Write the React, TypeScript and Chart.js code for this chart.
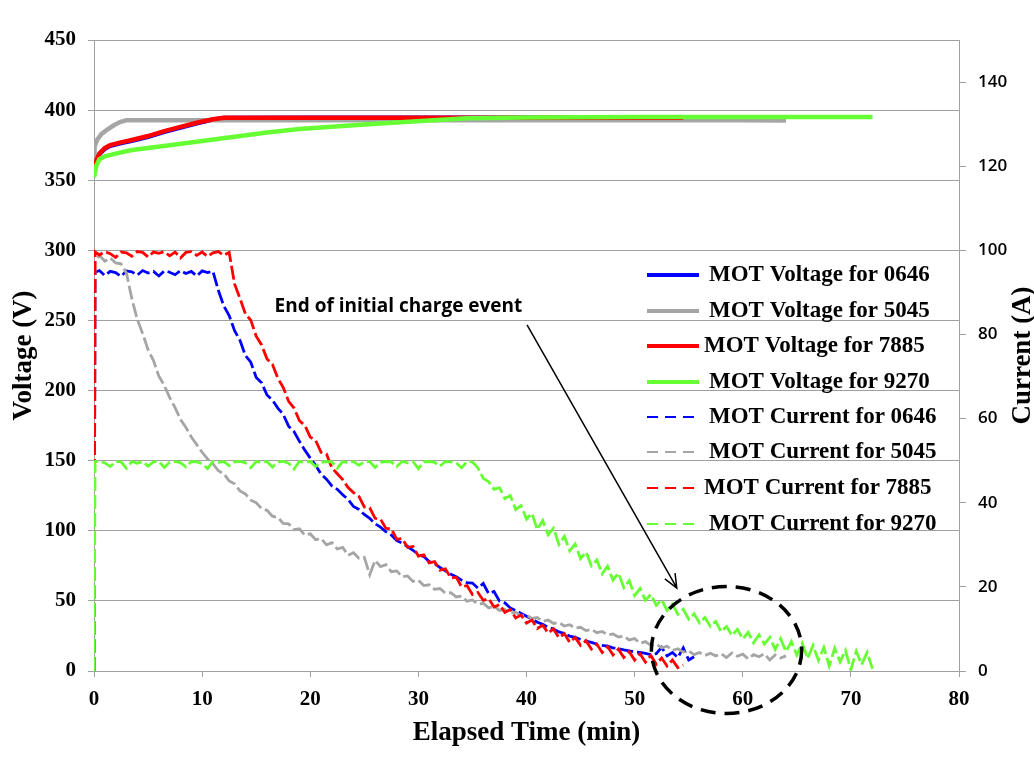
import React, { useEffect, useRef } from "react";
import { Chart, registerables } from "chart.js";

Chart.register(...registerables);

// ---------------- DATA ----------------
// Shared time grid (min) for the sampled current records
const TIME = [
  0, 0.1,
  0.5, 1, 1.5, 2, 2.5, 3, 3.5, 4, 4.5, 5,
  5.5, 6, 6.5, 7, 7.5, 8, 8.5, 9, 9.5, 10,
  10.5, 11, 11.5, 12, 12.5, 13, 13.5, 14, 14.5, 15,
  15.5, 16, 16.5, 17, 17.5, 18, 18.5, 19, 19.5, 20,
  20.5, 21, 21.5, 22, 22.5, 23, 23.5, 24, 24.5, 25,
  25.5, 26, 26.5, 27, 27.5, 28, 28.5, 29, 29.5, 30,
  30.5, 31, 31.5, 32, 32.5, 33, 33.5, 34, 34.5, 35,
  35.5, 36, 36.5, 37, 37.5, 38, 38.5, 39, 39.5, 40,
  40.5, 41, 41.5, 42, 42.5, 43, 43.5, 44, 44.5, 45,
  45.5, 46, 46.5, 47, 47.5, 48, 48.5, 49, 49.5, 50,
  50.5, 51, 51.5, 52, 52.5, 53, 53.5, 54, 54.5, 55,
  55.5, 56, 56.5, 57, 57.5, 58, 58.5, 59, 59.5, 60,
  60.5, 61, 61.5, 62, 62.5, 63, 63.5, 64, 64.5, 65,
  65.5, 66, 66.5, 67, 67.5, 68, 68.5, 69, 69.5, 70,
  70.5, 71, 71.5, 72,
];

// MOT current (A), index-aligned with TIME
const CURRENT_0646 = [
  0, 94.8,
  95.2, 94.0, 95.0, 94.7, 93.8, 95.1, 94.9, 94.1, 95.2, 94.6,
  95.0, 93.9, 95.1, 94.8, 94.2, 95.2, 94.5, 95.0, 93.9, 95.1,
  94.7, 95.0, 90.5, 86.8, 84.5, 80.9, 78.6, 75.0, 73.4, 69.8,
  68.5, 65.6, 64.4, 62.5, 61.0, 58.2, 56.9, 54.6, 52.5, 50.6,
  48.9, 46.8, 45.6, 44.0, 43.2, 41.9, 40.8, 39.1, 38.4, 37.2,
  36.3, 35.0, 34.2, 33.1, 32.3, 31.0, 30.4, 29.6, 28.7, 27.7,
  27.2, 26.0, 25.5, 24.6, 23.8, 23.0, 22.4, 21.6, 21.0, 20.9,
  19.7, 20.8, 18.4, 18.9, 16.6, 16.2, 15.0, 14.4, 13.7, 13.0,
  12.4, 11.6, 11.1, 10.4, 10.0, 9.3, 8.9, 8.3, 8.0, 7.5,
  7.1, 6.8, 6.4, 6.1, 5.9, 5.5, 5.3, 5.0, 4.8, 4.5,
  4.4, 4.2, 3.9, 4.1, 5.6, 3.6, 4.4, 3.2, 5.5, 2.6,
  3.4,
];

const CURRENT_5045 = [
  0, 97.5,
  98.8, 97.4, 98.2, 97.0, 96.8, 94.6, 88.5, 83.6, 80.2, 76.4,
  73.8, 70.1, 67.9, 65.0, 62.6, 59.8, 57.9, 55.6, 53.8, 52.0,
  50.4, 49.3, 47.6, 46.9, 45.2, 44.5, 42.8, 42.1, 40.6, 40.0,
  38.6, 38.2, 36.8, 36.5, 35.1, 35.0, 33.6, 33.8, 32.3, 32.6,
  31.2, 31.5, 30.0, 30.5, 29.0, 29.4, 27.5, 28.1, 26.8, 27.0,
  22.9, 26.3, 24.8, 25.3, 23.6, 23.8, 22.4, 22.6, 21.3, 21.6,
  20.3, 20.5, 19.4, 19.6, 18.5, 18.6, 17.6, 17.8, 16.6, 16.9,
  15.9, 16.1, 15.0, 15.4, 14.4, 14.6, 13.8, 14.0, 13.1, 13.3,
  12.5, 12.7, 11.8, 12.1, 11.3, 11.5, 10.7, 11.0, 10.2, 10.4,
  9.6, 9.9, 9.1, 9.4, 8.6, 8.8, 8.1, 8.3, 7.4, 7.7,
  6.6, 7.0, 6.1, 6.4, 5.5, 5.9, 4.9, 5.3, 4.5, 4.8,
  3.9, 4.4, 3.7, 4.2, 3.6, 4.1, 3.2, 4.3, 3.5, 4.0,
  2.9, 3.9, 3.4, 4.1, 2.6, 3.8, 3.1, 3.6,
];

const CURRENT_7885 = [
  0, 99.6,
  98.9, 99.7, 99.2, 98.3, 99.6, 99.4, 98.6, 99.7, 99.5, 98.4,
  99.6, 99.3, 99.7, 98.7, 99.6, 98.2, 99.5, 99.7, 98.8, 99.6,
  98.5, 99.4, 99.7, 98.8, 99.5, 92.0, 88.6, 84.9, 83.4, 79.6,
  77.5, 74.2, 72.9, 69.6, 67.4, 64.1, 62.5, 59.5, 58.4, 55.6,
  54.8, 52.0, 51.6, 48.3, 46.9, 45.5, 43.6, 42.4, 41.5, 39.0,
  38.8, 36.3, 36.1, 33.9, 33.8, 31.3, 31.5, 29.4, 29.6, 27.3,
  27.6, 25.7, 26.0, 24.0, 24.3, 22.1, 22.3, 20.0, 20.3, 18.2,
  18.7, 16.8, 17.2, 15.2, 15.8, 13.9, 14.6, 12.6, 13.3, 11.4,
  12.1, 10.1, 10.9, 9.0, 10.0, 7.9, 8.9, 6.8, 8.0, 6.1,
  7.2, 5.2, 6.4, 4.4, 5.8, 3.8, 5.2, 3.2, 4.6, 2.6,
  4.1, 2.1, 3.7, 1.6, 3.1, 1.2, 2.6, 0.8, 1.4,
];

const CURRENT_9270 = [
  0, 49.8,
  49.8, 49.5, 48.6, 49.8, 49.7, 48.2, 49.8, 49.4, 49.8, 48.7,
  49.7, 49.8, 48.4, 49.6, 49.8, 49.5, 48.5, 49.8, 49.7, 49.3,
  48.1, 49.8, 49.6, 49.8, 48.8, 49.7, 49.8, 49.5, 48.3, 49.8,
  49.6, 49.8, 48.5, 49.7, 49.8, 49.4, 48.0, 49.8, 49.7, 49.8,
  48.6, 49.6, 49.8, 49.7, 48.2, 49.8, 49.5, 49.8, 48.9, 49.7,
  49.8, 48.4, 49.6, 49.8, 49.7, 48.6, 49.8, 49.5, 49.8, 48.1,
  49.7, 49.8, 49.6, 48.7, 49.8, 49.7, 49.5, 48.3, 49.8, 49.7,
  48.3, 45.8, 45.0, 43.2, 43.6, 41.0, 41.7, 38.4, 39.3, 36.1,
  37.5, 33.6, 35.8, 32.4, 33.9, 30.1, 32.0, 28.6, 30.2, 26.7,
  28.3, 25.0, 26.4, 23.1, 24.9, 21.6, 23.3, 19.8, 21.5, 17.9,
  19.6, 16.8, 18.2, 15.6, 17.0, 14.4, 15.9, 13.5, 14.7, 12.3,
  13.6, 11.4, 12.7, 10.6, 11.8, 9.3, 10.6, 8.4, 9.9, 7.6,
  9.2, 6.7, 8.6, 6.4, 8.0, 5.1, 7.7, 4.6, 7.0, 3.8,
  6.6, 3.0, 6.1, 2.5, 5.6, 1.2, 5.4, 2.2, 4.9, 0.3,
  4.7, 1.5, 4.4, 0.5,
];

// MOT voltage (V) with their own time stamps (min)
const VOLT_TIME_0646 = [0, 0.2, 0.5, 1, 1.5, 2.5, 3.5, 5, 6.5, 8, 9.5, 11, 12, 20, 30, 40, 50, 55.5];
const VOLT_0646 = [360, 363.5, 368.5, 372.5, 374.5, 376.5, 378.2, 381, 384.5, 387.5, 390.6, 393.2, 394.4, 394.5, 394.5, 394.5, 394.5, 394.5];

const VOLT_TIME_5045 = [0, 0.05, 0.3, 0.7, 1.2, 1.8, 2.4, 3, 10, 20, 30, 40, 50, 60, 64];
const VOLT_5045 = [362, 374, 379, 383, 386, 389, 391.5, 392.8, 392.8, 392.8, 392.7, 392.8, 392.7, 392.8, 392.6];

const VOLT_TIME_7885 = [0, 0.2, 0.5, 1, 1.5, 2.5, 3.5, 5, 6.5, 8, 9.5, 11, 12, 20, 30, 40, 50, 54.5];
const VOLT_7885 = [360, 364, 369, 373, 375, 377, 378.7, 381.5, 385, 388, 391, 393.5, 394.6, 394.6, 394.6, 394.6, 394.6, 394.6];

const VOLT_TIME_9270 = [0, 0.2, 0.5, 1, 2, 3.5, 5, 7, 10, 13, 16, 19, 22, 25, 28, 31, 34.5, 40, 50, 60, 72];
const VOLT_9270 = [352, 360, 365, 367, 369, 371.5, 373, 375, 378, 381, 384, 386.5, 388.2, 389.8, 391.1, 392.6, 394.2, 394.8, 395, 395, 395];

const UNITS = ["0646", "5045", "7885", "9270"];
const VOLTAGE_LABELS = UNITS.map((u) => `MOT Voltage for ${u}`);
const CURRENT_LABELS = UNITS.map((u) => `MOT Current for ${u}`);

// Annotation (in data units: minutes, volts)
const NOTE_TEXT = "End of initial charge event";
const NOTE_AT = [16.7, 259.6];
const ARROW_FROM = [40.05, 246.8];
const ARROW_TO = [53.9, 59.2];
const CIRCLE_CENTER = [58.5, 15.0];
const CIRCLE_RADII = [6.95, 45.3];

// ---------------- STYLE ----------------
const SERIF = '"Liberation Serif", "Times New Roman", serif';
const SANS = '"Open Sans", "Liberation Sans", sans-serif';
const UNIT_COLORS = ["#0000ff", "#a5a5a5", "#ff0000", "#66ff33"];
const GRID = "#a0a0a0";

function pairs(t: number[], v: number[]) {
  return v.map((y, i) => ({ x: t[i], y }));
}

const overlayPlugin = {
  id: "overlay",
  afterDatasetsDraw(chart: any) {
    const { ctx, scales } = chart;
    const x = scales.x;
    const y = scales.y;
    const px = (t: number) => x.getPixelForValue(t);
    const py = (v: number) => y.getPixelForValue(v);

    ctx.save();
    // annotation text
    ctx.fillStyle = "#000";
    ctx.font = `bold 19px ${SANS}`;
    ctx.textAlign = "left";
    ctx.textBaseline = "middle";
    ctx.fillText(NOTE_TEXT, px(NOTE_AT[0]), py(NOTE_AT[1]));

    // arrow
    const ax0 = px(ARROW_FROM[0]);
    const ay0 = py(ARROW_FROM[1]);
    const ax1 = px(ARROW_TO[0]);
    const ay1 = py(ARROW_TO[1]);
    ctx.strokeStyle = "#000";
    ctx.lineWidth = 1.5;
    ctx.setLineDash([]);
    ctx.beginPath();
    ctx.moveTo(ax0, ay0);
    ctx.lineTo(ax1, ay1);
    const ang = Math.atan2(ay1 - ay0, ax1 - ax0);
    const head = 15;
    ctx.moveTo(ax1 - head * Math.cos(ang - 0.4), ay1 - head * Math.sin(ang - 0.4));
    ctx.lineTo(ax1, ay1);
    ctx.lineTo(ax1 - head * Math.cos(ang + 0.4), ay1 - head * Math.sin(ang + 0.4));
    ctx.stroke();

    // dashed ellipse
    const cx = px(CIRCLE_CENTER[0]);
    const cy = py(CIRCLE_CENTER[1]);
    const rx = px(CIRCLE_CENTER[0] + CIRCLE_RADII[0]) - cx;
    const ry = cy - py(CIRCLE_CENTER[1] + CIRCLE_RADII[1]);
    ctx.lineWidth = 3.5;
    ctx.setLineDash([15, 9]);
    ctx.beginPath();
    ctx.ellipse(cx, cy, rx, ry, 0, 0, Math.PI * 2);
    ctx.stroke();
    ctx.setLineDash([]);

    // legend
    const rowsY = [275, 311, 346, 382, 417, 452, 488, 524];
    const textX = [709, 709, 704, 709, 709, 709, 704, 709];
    ctx.font = `bold 23px ${SERIF}`;
    ctx.textBaseline = "middle";
    const ds = chart.data.datasets;
    ds.forEach((d: any, i: number) => {
      const yy = rowsY[i];
      ctx.strokeStyle = d.borderColor;
      ctx.lineWidth = d.legendWidth;
      ctx.setLineDash(d.legendDash || []);
      ctx.beginPath();
      ctx.moveTo(647, yy);
      ctx.lineTo(699, yy);
      ctx.stroke();
      ctx.setLineDash([]);
      ctx.fillStyle = "#000";
      ctx.fillText(d.label, textX[i], yy);
    });

    // right axis title
    ctx.save();
    ctx.translate(1023, (chart.chartArea.top + chart.chartArea.bottom) / 2);
    ctx.rotate(-Math.PI / 2);
    ctx.textAlign = "center";
    ctx.textBaseline = "middle";
    ctx.font = `bold 27px ${SERIF}`;
    ctx.fillStyle = "#000";
    ctx.fillText("Current (A)", 0, 0);
    ctx.restore();

    ctx.restore();
  },
};

export default function App() {
  const ref = useRef<HTMLCanvasElement>(null);

  useEffect(() => {
    const canvas = ref.current;
    if (!canvas) return;

    const voltageData = [
      pairs(VOLT_TIME_0646, VOLT_0646),
      pairs(VOLT_TIME_5045, VOLT_5045),
      pairs(VOLT_TIME_7885, VOLT_7885),
      pairs(VOLT_TIME_9270, VOLT_9270),
    ];
    const currentData = [
      pairs(TIME, CURRENT_0646),
      pairs(TIME, CURRENT_5045),
      pairs(TIME, CURRENT_7885),
      pairs(TIME, CURRENT_9270),
    ];

    const datasets: any[] = [];
    voltageData.forEach((data, i) => {
      datasets.push({
        label: VOLTAGE_LABELS[i],
        data,
        yAxisID: "y",
        borderColor: UNIT_COLORS[i],
        borderWidth: 4.5,
        legendWidth: 4,
        pointRadius: 0,
        tension: 0,
        fill: false,
        order: 20 - i,
      });
    });
    currentData.forEach((data, i) => {
      datasets.push({
        label: CURRENT_LABELS[i],
        data,
        yAxisID: "y1",
        borderColor: UNIT_COLORS[i],
        borderWidth: 2.8,
        legendWidth: 2.2,
        borderDash: [14, 4],
        legendDash: [11, 7],
        pointRadius: 0,
        tension: 0,
        fill: false,
        order: 10 - i,
      });
    });

    const tickFont = { family: SERIF, size: 21, weight: "bold" as const };

    const chart = new Chart(canvas, {
      type: "line",
      data: { datasets },
      plugins: [overlayPlugin],
      options: {
        animation: false,
        responsive: false,
        layout: { padding: { top: 40, left: 0, right: 0, bottom: 0 } },
        plugins: {
          legend: { display: false },
          tooltip: { enabled: false },
        },
        scales: {
          x: {
            type: "linear",
            min: 0,
            max: 80,
            ticks: { stepSize: 10, font: tickFont, color: "#000", padding: 10 },
            grid: { drawOnChartArea: false, color: GRID, tickLength: 6 },
            border: { display: true, color: GRID, width: 1 },
            title: {
              display: true,
              text: "Elapsed Time (min)",
              color: "#000",
              font: { family: SERIF, size: 27, weight: "bold" },
              padding: { top: 0, bottom: 17 },
            },
            afterFit: (s: any) => {
              s.height = 95;
            },
          },
          y: {
            type: "linear",
            position: "left",
            min: 0,
            max: 450,
            ticks: { stepSize: 50, font: tickFont, color: "#000", padding: 12 },
            grid: { color: GRID, tickLength: 6, lineWidth: 1 },
            border: { display: true, color: GRID, width: 1 },
            title: {
              display: true,
              text: "Voltage (V)",
              color: "#000",
              font: { family: SERIF, size: 27, weight: "bold" },
              padding: { top: 8, bottom: 0 },
            },
            afterFit: (s: any) => {
              s.width = 94;
            },
          },
          y1: {
            type: "linear",
            position: "right",
            min: 0,
            max: 150,
            ticks: {
              stepSize: 20,
              includeBounds: false,
              font: { family: SANS, size: 17, weight: "600" },
              color: "#000",
              padding: 12,
            },
            grid: { drawOnChartArea: false, color: GRID, tickLength: 7 },
            border: { display: true, color: GRID, width: 1 },
            afterFit: (s: any) => {
              s.width = 75;
            },
          },
        },
      } as any,
    });

    return () => chart.destroy();
  }, []);

  return (
    <div style={{ position: "absolute", left: 0, top: 0, width: 1034, height: 766, background: "#fff" }}>
      <canvas ref={ref} width={1034} height={766} style={{ display: "block" }} />
    </div>
  );
}
